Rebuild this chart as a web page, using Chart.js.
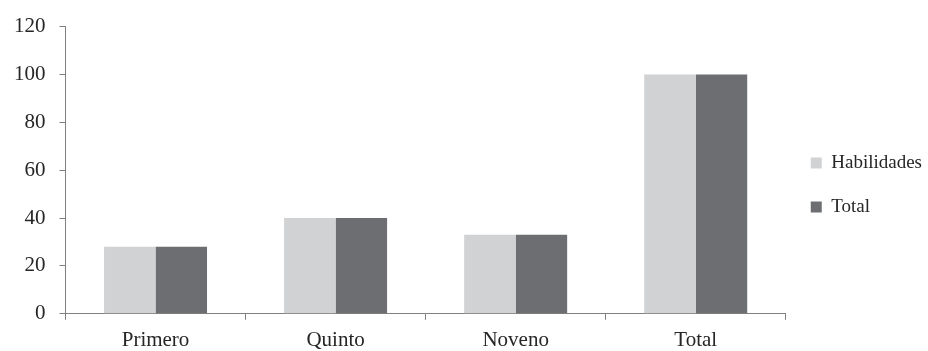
<!DOCTYPE html>
<html>
<head>
<meta charset="utf-8">
<script src="https://cdn.jsdelivr.net/npm/chart.js@4"></script>
<style>
  html, body { margin: 0; padding: 0; background: #fff; }
  #wrap { width: 928px; height: 351px; position: relative; }
</style>
</head>
<body>
<div id="wrap"><canvas id="grados"></canvas></div>
<script>
const categorias = ['Primero', 'Quinto', 'Noveno', 'Total'];
const habilidades = [28, 40, 33, 100];
const total = [28, 40, 33, 100];
const yTicks = [0, 20, 40, 60, 80, 100, 120];

const fuente = "'Liberation Serif', 'DejaVu Serif', serif";
const gris = '#808080';

const ctx = document.getElementById('grados');

const chart = new Chart(ctx, {
    type: 'bar',
    data: {
        labels: categorias,
        datasets: [
        {
            label: 'Habilidades',
            data: habilidades,
            backgroundColor: '#d1d2d4',
            borderWidth: 0
        },
        {
            label: 'Total',
            data: total,
            backgroundColor: '#6d6e71',
            borderWidth: 0
        }
        ]
    },
    options: {
        responsive: true,
        maintainAspectRatio: false,
        animation: false,
        categoryPercentage: 0.572,
        barPercentage: 1.0,
        layout: {
            padding: { top: 9, left: 0, right: -4, bottom: -10 }
        },
        scales: {
            x: {
                grid: {
                    drawOnChartArea: false,
                    tickLength: 6,
                    color: gris
                },
                border: { color: gris },
                ticks: {
                    color: '#262626',
                    padding: 8,
                    font: { family: fuente, size: 21 }
                }
            },
            y: {
                min: 0,
                max: 120,
                afterBuildTicks: function(axis){
                    axis.ticks = yTicks.map(v => ({ value: v }));
                },
                grid: {
                    drawOnChartArea: false,
                    tickLength: 6,
                    color: gris
                },
                border: { color: gris },
                ticks: {
                    color: '#262626',
                    padding: 14,
                    font: { family: fuente, size: 21 }
                }
            }
        },
        plugins: {
            legend: {
                position: 'right',
                labels: {
                    boxWidth: 11,
                    boxHeight: 11,
                    padding: 25,
                    color: '#262626',
                    font: { family: fuente, size: 19 }
                }
            },
            tooltip: { enabled: false }
        }
    }
});
</script>
</body>
</html>
